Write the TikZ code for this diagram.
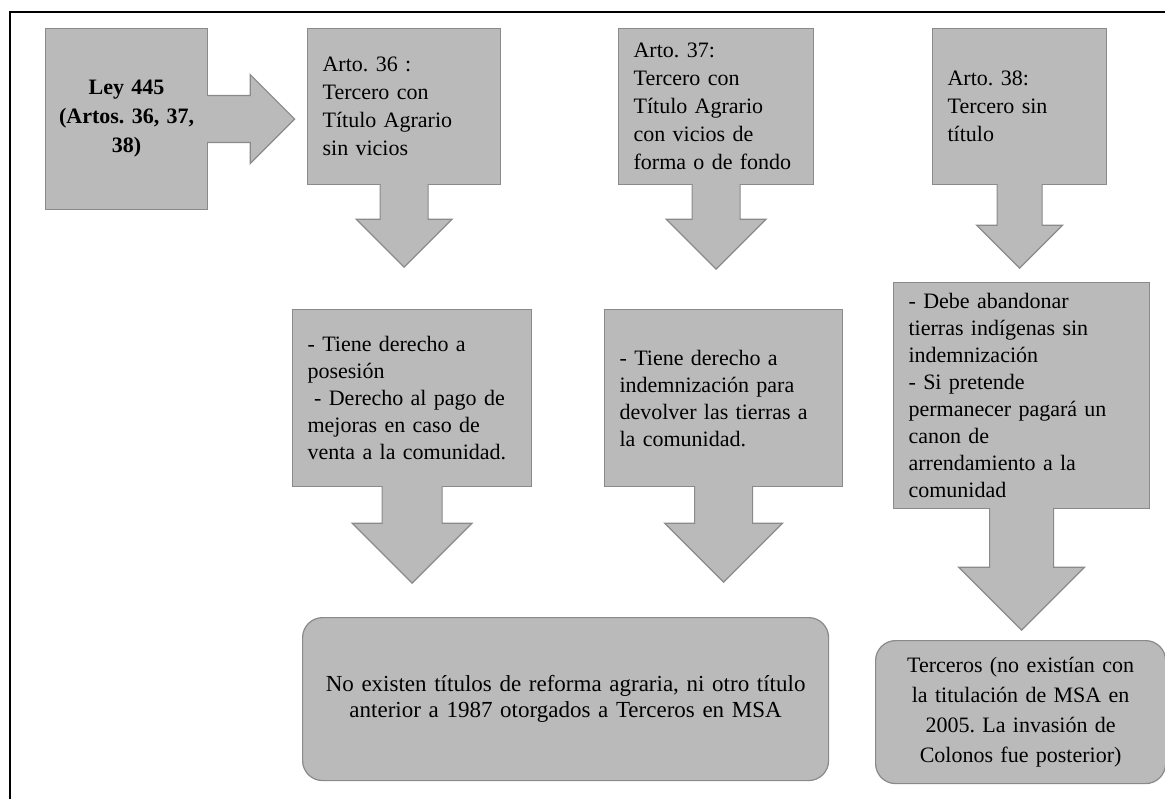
\documentclass[tikz,border=0pt]{standalone}
\usepackage{fontspec}
\setmainfont{Liberation Serif}
\usepackage{tikz}
\usetikzlibrary{positioning}
\definecolor{relleno}{RGB}{186,186,186}
\definecolor{borde}{RGB}{138,138,138}

\begin{document}
\frenchspacing
\begin{tikzpicture} [x = 1pt, y = -1pt,
    caja/.style = {rectangle, draw = borde, fill = relleno, line width = 1.2pt, anchor = north west, inner xsep = 15pt, inner ysep = 0pt, align = left, font = \fontsize{22}{28}\selectfont},
    final/.style = {caja, rounded corners = 20pt, align = center},
    flecha/.style = {draw = borde, fill = relleno, line width = 1.2pt}]
    \useasboundingbox (0,0) rectangle (1165,799);
    \draw [line width = 2.5pt] (10,799)--(10,12)--(1165,12);
    \node [caja, inner xsep = 5pt, align = center, minimum width = 162pt, minimum height = 181pt, text width = 152pt, font = \fontsize{22}{29}\selectfont\bfseries] (ley) at (45,28) {Ley 445\\(Artos. 36, 37,\\38)\\[12pt]};
    \node [caja, minimum width = 193pt, minimum height = 156pt, text width = 163pt] (a36) at (307,28) {Arto. 36 :\\Tercero con\\Título Agrario\\sin vicios\\[13pt]};
    \node [caja, minimum width = 195pt, minimum height = 156pt, text width = 165pt] (a37) at (618,28) {Arto. 37:\\Tercero con\\Título Agrario\\con vicios de\\forma o de fondo};
    \node [caja, minimum width = 174pt, minimum height = 156pt, text width = 144pt] (a38) at (932,28) {Arto. 38:\\Tercero sin\\título\\[22pt]};
    \node [caja, minimum width = 239pt, minimum height = 177pt, text width = 209pt, font = \fontsize{22}{27}\selectfont] (d36) at (292,309) {- Tiene derecho a\\posesión\\\hspace*{0.3em}- Derecho al pago de\\mejoras en caso de\\venta a la comunidad.};
    \node [caja, minimum width = 238pt, minimum height = 177pt, text width = 208pt, font = \fontsize{22}{27}\selectfont] (d37) at (604,309) {- Tiene derecho a\\indemnización para\\devolver las tierras a\\la comunidad.};
    \node [caja, minimum width = 256pt, minimum height = 226pt, text width = 226pt, font = \fontsize{22}{27}\selectfont] (d38) at (893,282) {- Debe abandonar\\tierras indígenas sin\\indemnización\\- Si pretende\\permanecer pagará un\\canon de\\arrendamiento a la\\comunidad};
    \node [final, minimum width = 526pt, minimum height = 163pt, text width = 496pt, font = \fontsize{23}{26}\selectfont] (fin) at (302,617) {No existen títulos de reforma agraria, ni otro título\\anterior a 1987 otorgados a Terceros en MSA};
    \node [final, inner xsep = 6pt, minimum width = 290pt, minimum height = 143pt, text width = 278pt, font = \fontsize{22}{30}\selectfont] (col) at (875,640) {Terceros (no existían con\\la titulación de MSA en\\2005. La invasión de\\Colonos fue posterior)};
    \filldraw [flecha] ([xshift = -1.2pt, yshift = 23.5pt]ley.east)--++(43.2,0)--++(0,-21)--++(44.5,44.5)--++(-44.5,44.5)--++(0,-21)--++(-43.2,0);
    \filldraw [flecha] ([xshift = -24pt, yshift = 1.2pt]a36.south)--++(0,35.2)--++(-24,0)--++(48,48)--++(48,-48)--++(-24,0)--++(0,-35.2);
    \filldraw [flecha] ([xshift = -24pt, yshift = 1.2pt]a37.south)--++(0,35.2)--++(-26,0)--++(50,50)--++(50,-50)--++(-26,0)--++(0,-35.2);
    \filldraw [flecha] ([xshift = -22.5pt, yshift = 1.2pt]a38.south)--++(0,41.2)--++(-20.5,0)--++(43,43)--++(43,-43)--++(-20.5,0)--++(0,-41.2);
    \filldraw [flecha] ([xshift = -30pt, yshift = 1.2pt]d36.south)--++(0,37.2)--++(-30,0)--++(60,60)--++(60,-60)--++(-30,0)--++(0,-37.2);
    \filldraw [flecha] ([xshift = -29pt, yshift = 1.2pt]d37.south)--++(0,37.2)--++(-30,0)--++(59,59)--++(59,-59)--++(-30,0)--++(0,-37.2);
    \filldraw [flecha] ([xshift = -32pt, yshift = 1.2pt]d38.south)--++(0,59.2)--++(-31,0)--++(63,63)--++(63,-63)--++(-31,0)--++(0,-59.2);
  \end{tikzpicture}
\end{document}
